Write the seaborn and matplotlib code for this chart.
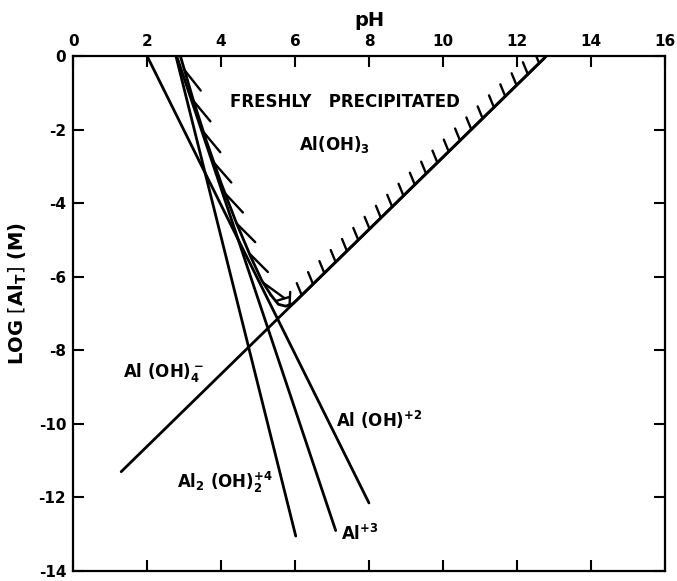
import matplotlib
matplotlib.use("Agg")
import pandas as pd
import seaborn as sns
import matplotlib.pyplot as plt
from matplotlib import patheffects

# species lines (pH, log Al_T end points)
species = ["Al(OH)2", "Al", "Al2(OH)2", "Al(OH)4"]
ph_start = [2.0, 2.8, 2.78, 1.3]
ph_end = [8.0, 7.1, 6.02, 12.8]
log_start = [0.0, 0.0, 0.0, -11.3]
log_end = [-12.15, -12.9, -13.05, 0.0]

# solubility boundary of freshly precipitated Al(OH)3
curve_ph = [2.9, 3.25, 3.6, 4.0, 4.4, 4.8, 5.1, 5.35]
curve_log = [0.0, -1.2, -2.3, -3.45, -4.5, -5.45, -6.1, -6.5]
edge_ph = [5.35, 5.55, 5.75, 5.95, 12.75]
edge_log = [-6.5, -6.75, -6.8, -6.73, -0.05]

x_ticks = [0, 2, 4, 6, 8, 10, 12, 14, 16]
y_ticks = [0, -2, -4, -6, -8, -10, -12, -14]

sns.set_style("ticks")
plt.rcParams["font.family"] = ["DejaVu Sans"]
plt.rcParams["axes.unicode_minus"] = False
plt.rcParams["mathtext.default"] = "regular"

# long table for seaborn
rows = []
for name, x0, x1, y0, y1 in zip(species, ph_start, ph_end, log_start, log_end):
    rows.append({"species": name, "pH": x0, "log": y0})
    rows.append({"species": name, "pH": x1, "log": y1})
df = pd.DataFrame(rows)

fig = plt.figure(figsize=(6.77, 5.81), dpi=100)
ax = fig.add_axes([0.108, 0.0172, 0.874, 0.8864])

sns.lineplot(data=df, x="pH", y="log", units="species", estimator=None,
             sort=False, color="black", lw=2.0, ax=ax)

# hatched solubility boundary
ax.plot(curve_ph, curve_log, color="black", lw=2.0,
        path_effects=[patheffects.withTickedStroke(angle=22, spacing=21, length=0.9, linewidth=1.7)])
ax.plot(edge_ph, edge_log, color="black", lw=2.0,
        path_effects=[patheffects.withTickedStroke(angle=68, spacing=11, length=0.85, linewidth=1.7)])

ax.set_xlim(0, 16)
ax.set_ylim(-14, 0)
ax.set_xticks(x_ticks)
ax.set_yticks(y_ticks)
ax.set_xticklabels([str(v) for v in x_ticks], fontweight="semibold")
ax.set_yticklabels([str(v) for v in y_ticks], fontweight="semibold")
ax.tick_params(axis="both", direction="in", length=8, width=1.5, labelsize=11,
               top=True, bottom=True, left=True, right=True,
               labeltop=True, labelbottom=False, pad=5,
               colors="black", labelcolor="black")
for s in ax.spines.values():
    s.set_linewidth(1.6)
    s.set_color("black")

ax.set_xlabel("pH", fontsize=14, labelpad=6, fontweight="semibold", color="black")
ax.xaxis.set_label_position("top")
ax.set_ylabel(r"LOG $\left[\mathbf{Al_T}\right]$ (M)", fontsize=14, labelpad=8,
              fontweight="semibold", color="black")
ax.yaxis.set_label_coords(-0.075, 0.54)

tkw = dict(fontsize=12, color="black", fontweight="semibold")
ax.text(7.35, -1.24, "FRESHLY   PRECIPITATED", ha="center", va="center", **tkw)
ax.text(6.1, -2.4, r"Al(OH)$_3$", ha="left", va="center", **tkw)
ax.text(1.35, -8.6, r"Al (OH)$_4^-$", ha="left", va="center", **tkw)
ax.text(7.1, -9.9, r"Al (OH)$^{+2}$", ha="left", va="center", **tkw)
ax.text(2.8, -11.6, r"Al$_2$ (OH)$_2^{+4}$", ha="left", va="center", **tkw)
ax.text(7.25, -13.0, r"Al$^{+3}$", ha="left", va="center", **tkw)

fig.savefig("out.png", dpi=100)
